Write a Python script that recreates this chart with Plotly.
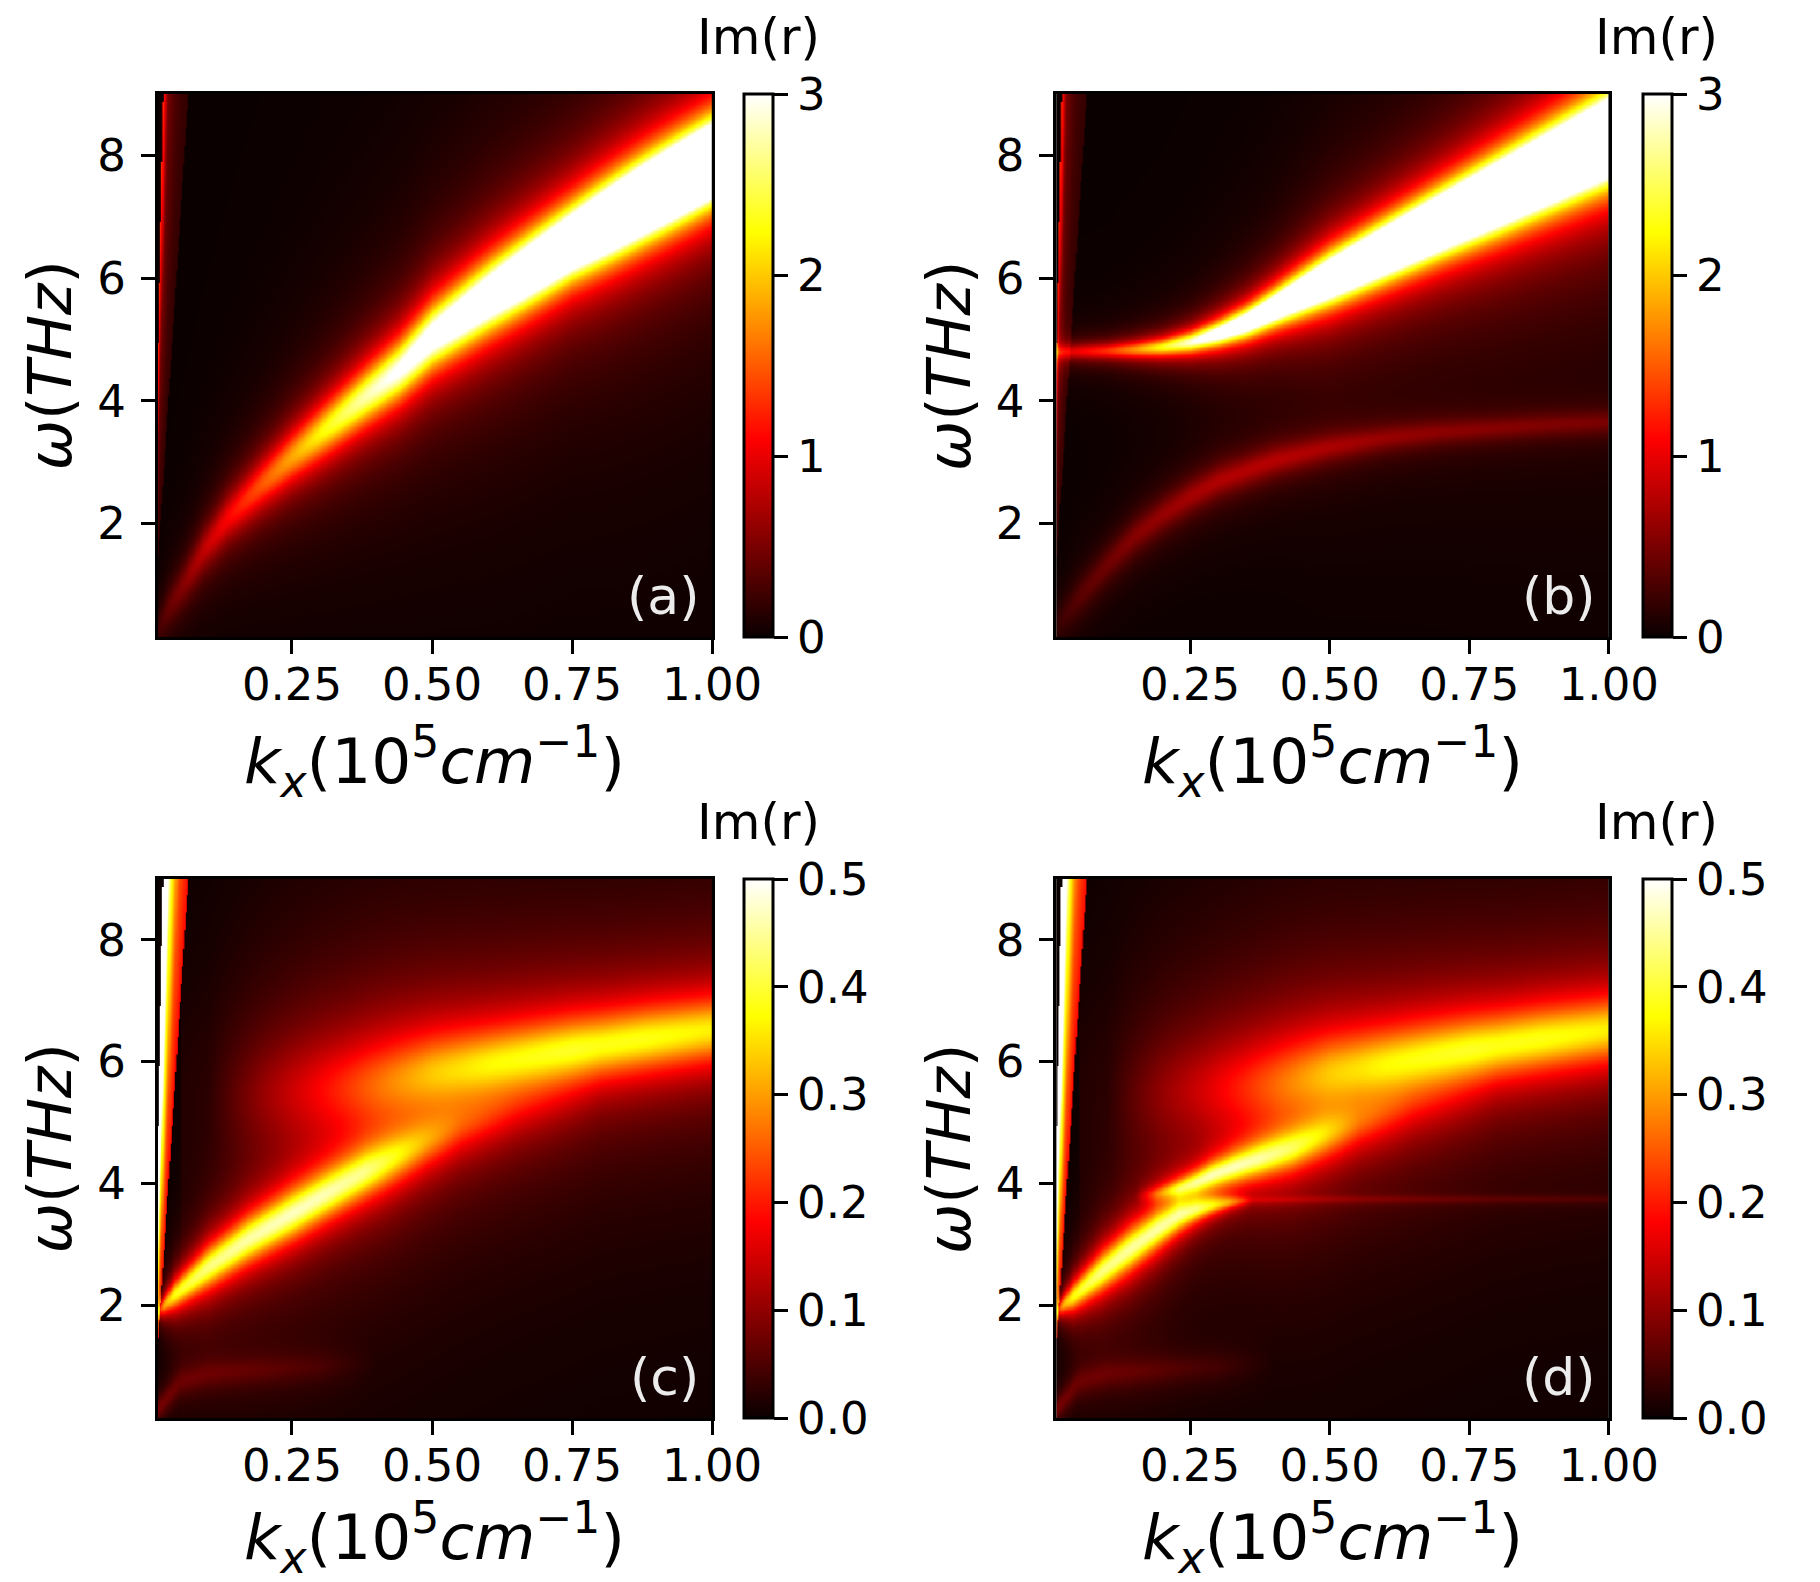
import numpy as np
import plotly.graph_objects as go

W, H = 1820, 1582

# axis ranges
kx_lo, kx_hi = 0.0104, 1.0
w_lo, w_hi = 0.15, 9.0

# light-cone wedge at small kx (edges in kx per THz) and its profile across the wedge
wedge_lo = 0.0021
wedge_hi = 0.0071
wedge_s = [0.0, 0.2, 0.3, 0.5, 0.65, 1.0]
wedge_v = [1.3, 0.52, 0.4, 0.3, 0.24, 0.18]

# ridges: kx, centre omega (THz), peak Im(r), half width (THz)
# (a)
a_kx = [0.0104, 0.03, 0.055, 0.09, 0.135, 0.19, 0.25, 0.31, 0.37, 0.44, 0.5, 0.6, 0.75, 0.88, 1.0]
a_w = [0.3, 0.65, 1.0, 1.55, 2.1, 2.6, 3.1, 3.55, 4.0, 4.5, 5.05, 5.7, 6.6, 7.3, 7.92]
a_pk = [0.25, 0.42, 0.55, 0.8, 1.1, 1.45, 1.85, 2.3, 2.7, 3.1, 3.5, 4.3, 6.0, 9.0, 12.0]
a_hw = [0.35, 0.36, 0.37, 0.38, 0.4, 0.42, 0.44, 0.45, 0.46, 0.48, 0.5, 0.5, 0.45, 0.4, 0.35]

# (b) upper branch
b1_kx = [0.0104, 0.05, 0.1, 0.15, 0.2, 0.25, 0.3, 0.35, 0.4, 0.45, 0.5, 0.6, 0.7, 0.8, 0.9, 1.0]
b1_w = [4.8, 4.81, 4.82, 4.84, 4.88, 4.96, 5.1, 5.28, 5.52, 5.76, 6.0, 6.46, 6.92, 7.37, 7.83, 8.29]
b1_pk = [0.85, 1.05, 1.3, 1.75, 2.3, 2.9, 3.5, 4.0, 4.5, 5.0, 5.6, 6.8, 8.0, 9.0, 9.8, 10.5]
b1_hw = [0.12, 0.13, 0.13, 0.14, 0.15, 0.17, 0.2, 0.23, 0.26, 0.3, 0.33, 0.34, 0.35, 0.37, 0.39, 0.41]
# (b) lower branch
b2_kx = [0.0104, 0.05, 0.1, 0.15, 0.2, 0.25, 0.3, 0.4, 0.5, 0.6, 0.7, 0.8, 0.9, 1.0]
b2_w = [0.35, 0.8, 1.33, 1.8, 2.15, 2.45, 2.7, 3.03, 3.25, 3.4, 3.5, 3.56, 3.62, 3.66]
b2_pk = [0.2, 0.35, 0.45, 0.55, 0.62, 0.68, 0.72, 0.72, 0.64, 0.55, 0.5, 0.47, 0.44, 0.42]
b2_hw = [0.35, 0.34, 0.32, 0.31, 0.3, 0.29, 0.28, 0.26, 0.24, 0.22, 0.21, 0.2, 0.2, 0.2]

# (c) lower branch
c1_kx = [0.0104, 0.02, 0.04, 0.1, 0.17, 0.25, 0.31, 0.38, 0.43, 0.49, 0.55, 0.65, 0.8]
c1_w = [1.9, 2.0, 2.18, 2.63, 3.08, 3.51, 3.83, 4.19, 4.42, 4.7, 4.95, 5.25, 5.6]
c1_pk = [0.15, 0.3, 0.38, 0.43, 0.44, 0.44, 0.42, 0.38, 0.31, 0.22, 0.14, 0.07, 0.0]
c1_hw = [0.12, 0.16, 0.24, 0.35, 0.39, 0.41, 0.41, 0.42, 0.44, 0.46, 0.5, 0.55, 0.6]
# (c), (d) upper band
c2_kx = [0.1, 0.2, 0.28, 0.34, 0.41, 0.5, 0.6, 0.75, 0.88, 1.0]
c2_w = [5.4, 5.5, 5.55, 5.6, 5.68, 5.84, 5.98, 6.2, 6.38, 6.53]
c2_pk = [0.0, 0.07, 0.12, 0.16, 0.21, 0.27, 0.31, 0.35, 0.35, 0.33]
c2_hw = [1.0, 0.95, 0.9, 0.85, 0.8, 0.7, 0.62, 0.57, 0.55, 0.55]
# (c), (d) faint band near the bottom
c3_kx = [0.0104, 0.05, 0.1, 0.2, 0.3, 0.4]
c3_w = [0.3, 0.75, 0.88, 0.95, 1.0, 1.05]
c3_pk = [0.08, 0.06, 0.055, 0.045, 0.03, 0.0]
c3_hw = [0.2, 0.25, 0.25, 0.25, 0.25, 0.25]
# (c), (d) broad dim glow around the upper band
c4_kx = [0.05, 0.3, 0.6, 1.0]
c4_w = [5.5, 6.0, 6.5, 7.0]
c4_pk = [0.015, 0.03, 0.035, 0.035]
c4_hw = [2.0, 2.0, 2.0, 2.0]

# (d) lower branch, split segment and thin line
d1_kx = [0.0104, 0.02, 0.04, 0.09, 0.142, 0.19, 0.229, 0.26, 0.287, 0.32, 0.36]
d1_w = [1.9, 2.0, 2.15, 2.55, 2.93, 3.25, 3.48, 3.58, 3.64, 3.69, 3.72]
d1_pk = [0.15, 0.3, 0.38, 0.43, 0.44, 0.43, 0.4, 0.35, 0.28, 0.18, 0.0]
d1_hw = [0.12, 0.16, 0.24, 0.33, 0.36, 0.33, 0.27, 0.2, 0.15, 0.1, 0.07]
d2_kx = [0.15, 0.19, 0.23, 0.26, 0.287, 0.33, 0.374, 0.432, 0.49, 0.55, 0.65, 0.8]
d2_w = [3.8, 3.84, 3.93, 4.03, 4.14, 4.28, 4.41, 4.58, 4.8, 5.0, 5.3, 5.6]
d2_pk = [0.0, 0.14, 0.28, 0.35, 0.39, 0.4, 0.38, 0.33, 0.25, 0.15, 0.07, 0.0]
d2_hw = [0.1, 0.13, 0.16, 0.19, 0.22, 0.26, 0.3, 0.35, 0.4, 0.45, 0.55, 0.6]
d3_kx = [0.25, 0.35, 0.5, 0.65, 0.8, 1.0]
d3_w = [3.74, 3.74, 3.75, 3.75, 3.75, 3.75]
d3_pk = [0.0, 0.05, 0.045, 0.04, 0.035, 0.03]
d3_hw = [0.06, 0.06, 0.06, 0.06, 0.06, 0.06]

kx = np.linspace(kx_lo, kx_hi, 480)
om = np.linspace(w_lo, w_hi, 400)
K, O = np.meshgrid(kx, om)


def ridge(k, w, p, g):
    c = np.interp(kx, k, w)
    pk = np.interp(kx, k, p, left=0, right=0)
    hw = np.interp(kx, k, g)
    return pk * hw**2 / ((O - c)**2 + hw**2)


def wedge():
    lo = wedge_lo * O
    hi = wedge_hi * O
    s = (K - lo) / (hi - lo)
    v = np.interp(s, wedge_s, wedge_v)
    return np.where((s >= 0) & (s <= 1), v, 0.0)


za = wedge() + ridge(a_kx, a_w, a_pk, a_hw)
zb = wedge() + ridge(b1_kx, b1_w, b1_pk, b1_hw) + ridge(b2_kx, b2_w, b2_pk, b2_hw)
upper = (ridge(c2_kx, c2_w, c2_pk, c2_hw) + ridge(c3_kx, c3_w, c3_pk, c3_hw)
         + ridge(c4_kx, c4_w, c4_pk, c4_hw))
zc = wedge() + ridge(c1_kx, c1_w, c1_pk, c1_hw) + upper
zd = (wedge() + ridge(d1_kx, d1_w, d1_pk, d1_hw) + ridge(d2_kx, d2_w, d2_pk, d2_hw)
      + ridge(d3_kx, d3_w, d3_pk, d3_hw) + upper)

# matplotlib "hot"
hot = [[0.0, 'rgb(10,0,0)'], [0.365, 'rgb(255,0,0)'],
       [0.746, 'rgb(255,255,0)'], [1.0, 'rgb(255,255,255)']]

# pixel boxes: left, right, top, bottom ; colourbar left ; x-title centre below frame
boxes = [(154, 724, 86, 629, 757, 124), (1078, 1646, 86, 629, 1681, 124),
         (154, 724, 871, 1410, 757, 119), (1078, 1646, 871, 1410, 1681, 119)]
zs = [za, zb, zc, zd]
zmaxes = [3, 3, 0.5, 0.5]
letters = ['(a)', '(b)', '(c)', '(d)']

font = 'DejaVu Sans'
fig = go.Figure()
ann = []

for i, (l, r, t, b, cbl, xt) in enumerate(boxes):
    n = '' if i == 0 else str(i + 1)
    if zmaxes[i] == 3:
        cbv = [0, 1, 2, 3]
        cbt = ['0', '1', '2', '3']
    else:
        cbv = [0, 0.1, 0.2, 0.3, 0.4, 0.5]
        cbt = ['0.0', '0.1', '0.2', '0.3', '0.4', '0.5']
    fig.add_trace(go.Heatmap(
        x=kx, y=om, z=np.round(zs[i], 3), zmin=0, zmax=zmaxes[i],
        colorscale=hot, zsmooth='best', xaxis='x' + n, yaxis='y' + n,
        colorbar=dict(x=cbl / W, xanchor='left', xpad=0, ypad=0,
                      y=1 - (t + b) / 2 / H, yanchor='middle',
                      len=(b - t) / H, lenmode='fraction',
                      thickness=29, outlinewidth=3, outlinecolor='black',
                      ticks='outside', ticklen=14, tickwidth=3, tickcolor='black',
                      tickvals=cbv, ticktext=cbt,
                      tickfont=dict(family=font, size=45, color='black')),
        hoverinfo='skip'))
    ax = dict(showline=True, linewidth=3, linecolor='black', mirror=True,
              ticks='outside', ticklen=14, tickwidth=3, tickcolor='black',
              showgrid=False, zeroline=False,
              tickfont=dict(family=font, size=45, color='black'))
    fig.layout['xaxis' + n] = dict(ax, domain=[l / W, r / W], range=[kx_lo, kx_hi],
                                   anchor='y' + n, tickvals=[0.25, 0.5, 0.75, 1.0],
                                   ticktext=['0.25', '0.50', '0.75', '1.00'],
                                   ticklabelstandoff=-8)
    fig.layout['yaxis' + n] = dict(ax, domain=[1 - b / H, 1 - t / H], range=[w_lo, w_hi],
                                   anchor='x' + n, tickvals=[2, 4, 6, 8],
                                   ticklabelstandoff=6)
    # axis titles
    ann.append(dict(x=(l + r) / 2 / W, y=1 - (b + xt) / H, xref='paper', yref='paper',
                    text='<i>k<sub>x</sub></i>(10<sup>5</sup><i>cm</i><sup>−1</sup>)',
                    showarrow=False, xanchor='center', yanchor='middle',
                    font=dict(family=font, size=63, color='black')))
    ann.append(dict(x=(l - 111) / W, y=1 - (t + b) / 2 / H, xref='paper', yref='paper',
                    text='<i>ω</i>(<i>THz</i>)', textangle=-90,
                    showarrow=False, xanchor='center', yanchor='middle',
                    font=dict(family=font, size=60, color='black')))
    # panel letter
    ann.append(dict(x=(r - 11) / W, y=1 - (b - 9) / H, xref='paper', yref='paper',
                    text=letters[i], showarrow=False, xanchor='right', yanchor='bottom',
                    font=dict(family=font, size=52, color='#ececec')))
    # colourbar title
    ann.append(dict(x=(cbl + 14.5) / W, y=1 - (t - 26) / H, xref='paper', yref='paper',
                    text='Im(r)', showarrow=False, xanchor='center', yanchor='bottom',
                    font=dict(family=font, size=50, color='black')))

fig.update_layout(width=W, height=H, autosize=False,
                  margin=dict(l=0, r=0, t=0, b=0),
                  paper_bgcolor='white', plot_bgcolor='black',
                  annotations=ann, showlegend=False)

fig.write_html("out.html")
